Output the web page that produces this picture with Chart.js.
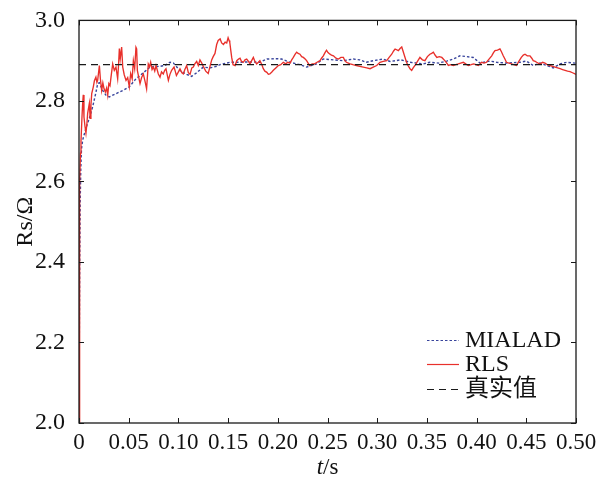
<!DOCTYPE html>
<html>
<head>
<meta charset="utf-8">
<script src="https://cdn.jsdelivr.net/npm/chart.js@4.4.1/dist/chart.umd.min.js"></script>
<style>
  html, body { margin: 0; padding: 0; background: #fff; }
  #wrap { width: 607px; height: 477px; }
</style>
</head>
<body>
<div id="wrap"><canvas id="rsChart" width="607" height="477"></canvas></div>
<script>
// identified stator resistance vs time
const trueValue = 2.89;
const xTicks = [0, 0.05, 0.10, 0.15, 0.20, 0.25, 0.30, 0.35, 0.40, 0.45, 0.50];
const yTicks = [2.0, 2.2, 2.4, 2.6, 2.8, 3.0];

const mialadTime = [
  0, 0.0003, 0.0007, 0.0012, 0.0018, 0.0025, 0.0037, 0.0070, 0.0104, 0.0138,
  0.0171, 0.0188, 0.0205, 0.0238, 0.0272, 0.0305, 0.0372, 0.0440, 0.0506, 0.0573,
  0.0614, 0.0714, 0.0815, 0.0865, 0.0915, 0.0950, 0.1016, 0.1083, 0.1133, 0.1184,
  0.1250, 0.1318, 0.1385, 0.1418, 0.1520, 0.1620, 0.1720, 0.1820, 0.1890, 0.1990,
  0.2038, 0.2123, 0.2223, 0.2290, 0.2390, 0.2458, 0.2560, 0.2660, 0.2760, 0.2825,
  0.2890, 0.2960, 0.3060, 0.3130, 0.3237, 0.3330, 0.3465, 0.3530, 0.3616, 0.3700,
  0.3766, 0.3833, 0.3900, 0.3967, 0.4033, 0.4135, 0.4200, 0.4300, 0.4436, 0.4500,
  0.4570, 0.4638, 0.4705, 0.4770, 0.4840, 0.4906, 0.4990, 0.5000
];
const mialadValue = [
  2.000, 2.200, 2.400, 2.550, 2.630, 2.680, 2.703, 2.732, 2.757, 2.786,
  2.822, 2.843, 2.845, 2.826, 2.814, 2.810, 2.818, 2.826, 2.835, 2.855,
  2.863, 2.884, 2.886, 2.888, 2.896, 2.894, 2.875, 2.866, 2.861, 2.870,
  2.884, 2.882, 2.886, 2.890, 2.896, 2.896, 2.897, 2.896, 2.904, 2.905,
  2.904, 2.896, 2.890, 2.884, 2.892, 2.904, 2.902, 2.900, 2.904, 2.902,
  2.896, 2.900, 2.904, 2.898, 2.902, 2.896, 2.892, 2.896, 2.894, 2.899,
  2.904, 2.912, 2.910, 2.908, 2.894, 2.899, 2.896, 2.894, 2.896, 2.899,
  2.888, 2.894, 2.888, 2.882, 2.892, 2.896, 2.894, 2.894
];

const rlsTime = [
  0, 0.0003, 0.0006, 0.0010, 0.0015, 0.0020, 0.0030, 0.0037, 0.0043, 0.0050,
  0.0060, 0.0070, 0.0080, 0.0087, 0.0104, 0.0112, 0.0120, 0.0128, 0.0144, 0.0155,
  0.0170, 0.0180, 0.0188, 0.0205, 0.0215, 0.0228, 0.0240, 0.0252, 0.0265, 0.0278,
  0.0289, 0.0300, 0.0312, 0.0322, 0.0339, 0.0355, 0.0372, 0.0389, 0.0398, 0.0406,
  0.0415, 0.0429, 0.0440, 0.0455, 0.0473, 0.0490, 0.0506, 0.0520, 0.0535, 0.0547,
  0.0560, 0.0573, 0.0580, 0.0587, 0.0600, 0.0614, 0.0630, 0.0647, 0.0665, 0.0680,
  0.0697, 0.0710, 0.0721, 0.0735, 0.0748, 0.0762, 0.0775, 0.0798, 0.0815, 0.0830,
  0.0848, 0.0862, 0.0875, 0.0899, 0.0915, 0.0932, 0.0956, 0.0968, 0.0980, 0.1000,
  0.1016, 0.1035, 0.1050, 0.1065, 0.1083, 0.1100, 0.1117, 0.1135, 0.1150, 0.1165,
  0.1184, 0.1200, 0.1217, 0.1235, 0.1250, 0.1275, 0.1300, 0.1318, 0.1335, 0.1350,
  0.1368, 0.1385, 0.1400, 0.1420, 0.1435, 0.1453, 0.1470, 0.1486, 0.1500, 0.1510,
  0.1517, 0.1536, 0.1550, 0.1570, 0.1587, 0.1605, 0.1620, 0.1635, 0.1653, 0.1670,
  0.1687, 0.1705, 0.1720, 0.1737, 0.1754, 0.1770, 0.1787, 0.1805, 0.1820, 0.1840,
  0.1854, 0.1870, 0.1890, 0.1905, 0.1920, 0.1940, 0.1955, 0.1980, 0.2005, 0.2030,
  0.2055, 0.2080, 0.2100, 0.2123, 0.2140, 0.2156, 0.2175, 0.2190, 0.2205, 0.2223,
  0.2240, 0.2257, 0.2275, 0.2290, 0.2305, 0.2320, 0.2345, 0.2370, 0.2395, 0.2425,
  0.2440, 0.2458, 0.2475, 0.2490, 0.2505, 0.2525, 0.2540, 0.2560, 0.2585, 0.2610,
  0.2635, 0.2660, 0.2675, 0.2690, 0.2710, 0.2727, 0.2755, 0.2790, 0.2825, 0.2860,
  0.2895, 0.2928, 0.2960, 0.2995, 0.3028, 0.3060, 0.3096, 0.3120, 0.3146, 0.3165,
  0.3180, 0.3213, 0.3230, 0.3247, 0.3262, 0.3280, 0.3295, 0.3310, 0.3330, 0.3347,
  0.3362, 0.3380, 0.3405, 0.3430, 0.3455, 0.3480, 0.3505, 0.3530, 0.3548, 0.3565,
  0.3582, 0.3600, 0.3625, 0.3650, 0.3665, 0.3680, 0.3700, 0.3716, 0.3740, 0.3766,
  0.3790, 0.3816, 0.3840, 0.3866, 0.3890, 0.3917, 0.3945, 0.3970, 0.3995, 0.4017,
  0.4035, 0.4050, 0.4075, 0.4100, 0.4125, 0.4152, 0.4170, 0.4185, 0.4210, 0.4235,
  0.4250, 0.4268, 0.4285, 0.4300, 0.4325, 0.4350, 0.4375, 0.4400, 0.4425, 0.4450,
  0.4470, 0.4487, 0.4510, 0.4537, 0.4555, 0.4570, 0.4590, 0.4604, 0.4620, 0.4638,
  0.4665, 0.4688, 0.4712, 0.4738, 0.4765, 0.4790, 0.4815, 0.4840, 0.4865, 0.4890,
  0.4915, 0.4940, 0.4965, 0.4990, 0.5000
];
const rlsValue = [
  2.000, 2.250, 2.480, 2.600, 2.670, 2.700, 2.760, 2.794, 2.815, 2.760,
  2.737, 2.720, 2.745, 2.769, 2.794, 2.757, 2.790, 2.818, 2.835, 2.850,
  2.859, 2.846, 2.852, 2.888, 2.855, 2.826, 2.845, 2.830, 2.822, 2.832,
  2.814, 2.843, 2.838, 2.859, 2.892, 2.876, 2.884, 2.855, 2.890, 2.930,
  2.905, 2.934, 2.884, 2.865, 2.851, 2.858, 2.835, 2.868, 2.855, 2.900,
  2.880, 2.933, 2.929, 2.876, 2.860, 2.843, 2.858, 2.867, 2.848, 2.830,
  2.892, 2.885, 2.896, 2.878, 2.884, 2.874, 2.888, 2.867, 2.859, 2.872,
  2.867, 2.876, 2.880, 2.851, 2.866, 2.876, 2.884, 2.874, 2.863, 2.872,
  2.880, 2.870, 2.867, 2.878, 2.888, 2.870, 2.866, 2.882, 2.884, 2.892,
  2.898, 2.888, 2.902, 2.894, 2.886, 2.874, 2.868, 2.886, 2.902, 2.910,
  2.918, 2.940, 2.950, 2.954, 2.944, 2.940, 2.946, 2.944, 2.957, 2.950,
  2.945, 2.908, 2.890, 2.888, 2.900, 2.904, 2.906, 2.898, 2.896, 2.902,
  2.904, 2.898, 2.892, 2.900, 2.908, 2.898, 2.892, 2.896, 2.900, 2.890,
  2.880, 2.874, 2.871, 2.866, 2.867, 2.872, 2.876, 2.882, 2.888, 2.890,
  2.896, 2.892, 2.896, 2.894, 2.902, 2.908, 2.916, 2.921, 2.918, 2.916,
  2.910, 2.908, 2.904, 2.900, 2.894, 2.888, 2.892, 2.892, 2.896, 2.900,
  2.906, 2.912, 2.920, 2.926, 2.920, 2.916, 2.914, 2.912, 2.906, 2.904,
  2.908, 2.908, 2.900, 2.896, 2.894, 2.892, 2.890, 2.888, 2.886, 2.884,
  2.882, 2.880, 2.884, 2.888, 2.896, 2.898, 2.900, 2.908, 2.916, 2.924,
  2.929, 2.925, 2.930, 2.934, 2.922, 2.908, 2.896, 2.888, 2.880, 2.876,
  2.882, 2.888, 2.898, 2.908, 2.902, 2.900, 2.910, 2.916, 2.918, 2.921,
  2.914, 2.908, 2.910, 2.908, 2.904, 2.900, 2.894, 2.888, 2.890, 2.888,
  2.890, 2.892, 2.894, 2.896, 2.892, 2.888, 2.890, 2.892, 2.890, 2.888,
  2.892, 2.896, 2.894, 2.896, 2.904, 2.912, 2.920, 2.925, 2.926, 2.929,
  2.922, 2.912, 2.904, 2.896, 2.894, 2.892, 2.890, 2.888, 2.898, 2.908,
  2.914, 2.916, 2.912, 2.912, 2.906, 2.900, 2.898, 2.896, 2.894, 2.892,
  2.896, 2.894, 2.890, 2.888, 2.886, 2.884, 2.882, 2.880, 2.878, 2.876,
  2.874, 2.873, 2.870, 2.867, 2.866
];

const serif = '"Liberation Serif", "Times New Roman", "Noto Sans CJK SC", serif';
const toPoints = (ts, vs) => ts.map((t, i) => ({ x: t, y: vs[i] }));

// inward tick marks on all four sides plus the frame
const frameTicks = {
  id: 'frameTicks',
  afterDatasetsDraw(chart) {
    const { ctx, chartArea: a, scales } = chart;
    const len = 5;
    ctx.save();
    ctx.strokeStyle = '#1a1a1a';
    ctx.lineWidth = 1;
    ctx.beginPath();
    xTicks.forEach((v) => {
      const px = Math.round(scales.x.getPixelForValue(v)) + 0.5;
      ctx.moveTo(px, a.bottom); ctx.lineTo(px, a.bottom - len);
      ctx.moveTo(px, a.top); ctx.lineTo(px, a.top + len);
    });
    yTicks.forEach((v) => {
      const py = Math.round(scales.y.getPixelForValue(v)) + 0.5;
      ctx.moveTo(a.left, py); ctx.lineTo(a.left + len, py);
      ctx.moveTo(a.right, py); ctx.lineTo(a.right - len, py);
    });
    ctx.stroke();
    ctx.lineWidth = 1.3;
    ctx.strokeRect(a.left, a.top, a.right - a.left, a.bottom - a.top);
    ctx.restore();
  },
};

// legend in the lower right of the plot, and the x-axis title with italic t
const sideText = {
  id: 'sideText',
  afterDraw(chart) {
    const { ctx, chartArea: a } = chart;
    ctx.save();
    ctx.fillStyle = '#111';
    ctx.textBaseline = 'middle';
    const rows = [340, 364, 389];
    chart.data.datasets.forEach((ds, i) => {
      const y = rows[i] + 0.5;
      ctx.strokeStyle = ds.borderColor;
      ctx.lineWidth = Math.min(ds.borderWidth, 1.2);
      ctx.setLineDash(ds.borderDash || []);
      ctx.beginPath();
      ctx.moveTo(427, y);
      ctx.lineTo(459, y);
      ctx.stroke();
      ctx.setLineDash([]);
      ctx.font = '24px ' + serif;
      ctx.textAlign = 'left';
      ctx.fillText(ds.label, 465, rows[i] + 1);
    });

    // t/s
    const cx = (a.left + a.right) / 2;
    const y = 468;
    ctx.font = 'italic 23px ' + serif;
    const wT = ctx.measureText('t').width;
    ctx.font = '23px ' + serif;
    const wS = ctx.measureText('/s').width;
    const x0 = cx - (wT + wS) / 2;
    ctx.font = 'italic 23px ' + serif;
    ctx.fillText('t', x0, y);
    ctx.font = '23px ' + serif;
    ctx.fillText('/s', x0 + wT, y);
    ctx.restore();
  },
};

new Chart(document.getElementById('rsChart'), {
  type: 'line',
  data: {
    datasets: [
      {
        label: 'MIALAD',
        data: toPoints(mialadTime, mialadValue),
        borderColor: '#38449c',
        borderWidth: 1.4,
        borderDash: [2.5, 2],
        order: 2,
      },
      {
        label: 'RLS',
        data: toPoints(rlsTime, rlsValue),
        borderColor: '#e8302b',
        borderWidth: 1.35,
        order: 1,
      },
      {
        label: '真实值',
        data: [{ x: 0, y: trueValue }, { x: 0.5, y: trueValue }],
        borderColor: '#1a1a1a',
        borderWidth: 1.2,
        borderDash: [7, 5],
        order: 0,
      },
    ],
  },
  options: {
    responsive: false,
    animation: false,
    layout: { padding: { top: 16, right: 31, left: 0, bottom: 0 } },
    elements: { point: { radius: 0 }, line: { tension: 0 } },
    plugins: { legend: { display: false }, tooltip: { enabled: false } },
    scales: {
      x: {
        type: 'linear',
        min: 0,
        max: 0.5,
        grid: { display: false },
        border: { display: false },
        afterFit: (s) => { s.height = 54; },
        afterBuildTicks: (s) => { s.ticks = xTicks.map((v) => ({ value: v })); },
        ticks: {
          autoSkip: false,
          maxRotation: 0,
          padding: -2,
          color: '#111',
          font: { family: serif, size: 23 },
          callback: (v) => (v === 0 ? '0' : v.toFixed(2)),
        },
      },
      y: {
        type: 'linear',
        min: 2.0,
        max: 3.0,
        grid: { display: false },
        border: { display: false },
        afterFit: (s) => { s.width = 79; },
        afterBuildTicks: (s) => { s.ticks = yTicks.map((v) => ({ value: v })); },
        ticks: {
          padding: 6,
          color: '#111',
          font: { family: serif, size: 24 },
          callback: (v) => v.toFixed(1),
        },
        title: {
          display: true,
          text: 'Rs/Ω',
          color: '#111',
          font: { family: serif, size: 24, lineHeight: 1.2 },
          padding: { top: 11, bottom: 0 },
        },
      },
    },
  },
  plugins: [frameTicks, sideText],
});
</script>
</body>
</html>
